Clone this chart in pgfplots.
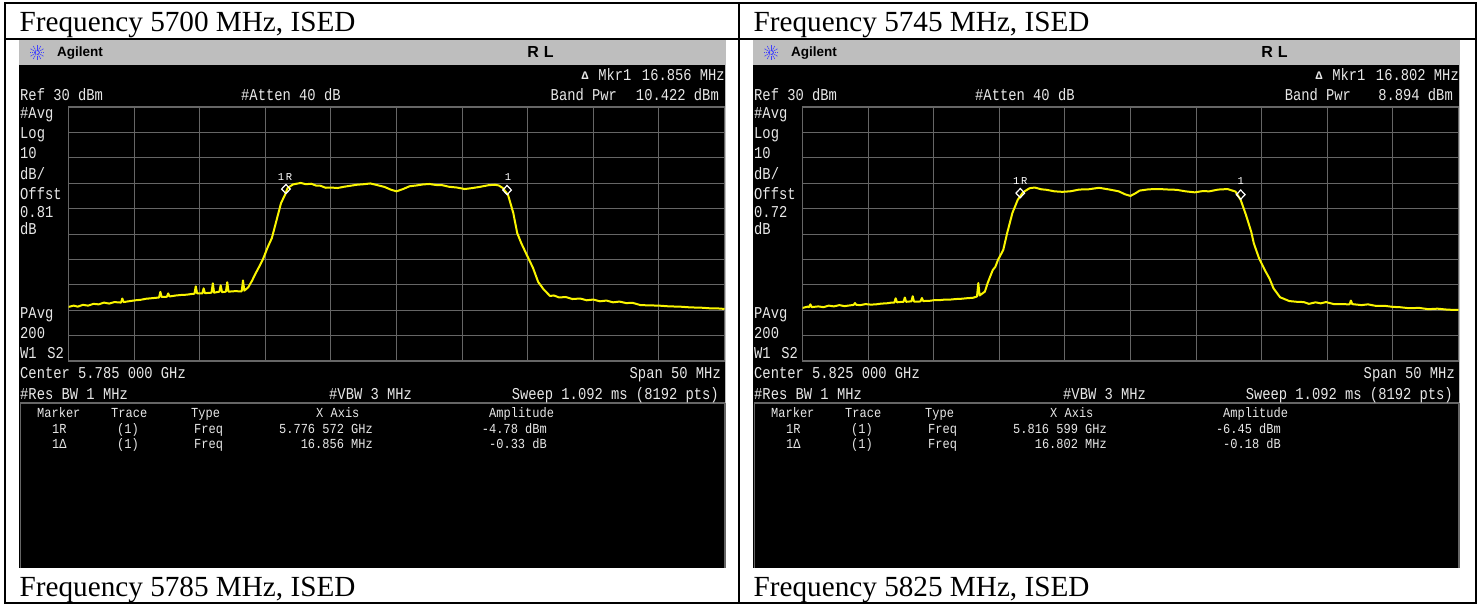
\documentclass[border=0pt]{standalone}
\usepackage{fontspec}
\usepackage{pgfplots}
\usepackage{pgfplotstable}
\pgfplotsset{compat=1.18}
\setmainfont{Liberation Serif}
\newfontfamily\lcdfont{Liberation Mono}
\newfontfamily\hpfont{Liberation Sans}

\definecolor{bar}{HTML}{BEBEBE}
\definecolor{gridc}{HTML}{666666}
\definecolor{lcd}{HTML}{E8E8E8}
\definecolor{trace}{HTML}{FAF500}

% traces: offset from centre (MHz), level (dBm), read off the screens
\pgfplotstableread{
f db
-25.0 -48.7
-24.6 -48.2
-24.3 -48.6
-23.9 -47.9
-23.5 -48.2
-23.1 -47.5
-22.7 -47.7
-22.3 -47.0
-21.9 -47.4
-21.5 -46.8
-21.0 -47.0
-20.9 -45.4
-20.8 -46.8
-20.3 -46.4
-19.9 -46.1
-19.5 -45.9
-19.1 -45.5
-18.7 -45.3
-18.1 -45.0
-18.0 -42.8
-17.9 -44.8
-17.5 -44.7
-17.4 -43.4
-17.3 -44.6
-16.8 -44.2
-16.4 -44.0
-16.0 -43.9
-15.6 -43.6
-15.4 -43.5
-15.3 -40.6
-15.2 -43.4
-14.8 -43.4
-14.7 -41.4
-14.6 -43.3
-14.1 -43.1
-14.0 -39.4
-13.9 -43.1
-13.5 -42.7
-13.4 -40.2
-13.3 -42.9
-13.0 -42.7
-12.9 -39.0
-12.8 -42.7
-12.3 -42.5
-11.8 -42.6
-11.7 -38.3
-11.6 -42.3
-11.3 -41.0
-11.0 -38.3
-10.8 -36.1
-10.5 -33.2
-10.2 -30.2
-9.8 -25.0
-9.5 -21.6
-9.2 -15.7
-8.8 -7.8
-8.5 -4.6
-8.3 -1.9
-7.9 -0.5
-7.5 -0.1
-7.3 0.1
-6.9 -0.4
-6.5 -0.2
-6.1 -1.0
-5.8 -1.0
-5.4 -1.8
-5.0 -1.7
-4.5 -1.9
-4.0 -1.4
-3.5 -1.0
-3.0 -0.6
-2.5 -0.4
-2.0 -0.1
-1.5 -0.7
-0.9 -1.5
-0.4 -2.6
0.0 -3.2
0.5 -2.3
1.0 -1.2
1.5 -0.9
2.0 -0.5
2.5 -0.3
3.0 -0.7
3.5 -0.8
4.0 -1.4
4.6 -1.7
5.2 -2.3
5.8 -1.9
6.4 -1.4
7.0 -0.8
7.5 -0.6
7.8 -0.9
8.1 -1.9
8.5 -4.6
8.9 -11.7
9.2 -19.6
9.5 -23.5
10.0 -29.0
10.4 -33.3
10.8 -38.9
11.2 -41.7
11.7 -44.4
12.0 -44.2
12.4 -45.0
12.9 -44.8
13.4 -45.6
14.0 -45.4
14.5 -46.1
15.0 -45.8
15.5 -46.5
16.0 -46.2
16.5 -46.9
17.0 -46.6
17.5 -47.2
18.0 -47.1
18.6 -48.0
19.3 -48.1
20.0 -48.2
20.8 -48.5
21.6 -48.6
22.4 -48.9
23.2 -49.0
24.0 -49.3
24.5 -49.3
25.0 -49.5
}\traceA

\pgfplotstableread{
f db
-25.0 -49.1
-24.6 -48.6
-24.5 -48.8
-24.4 -47.7
-24.3 -48.8
-23.8 -48.5
-23.4 -48.8
-23.0 -48.2
-22.6 -48.5
-22.2 -48.0
-21.8 -48.4
-21.1 -47.9
-21.0 -47.2
-20.9 -47.9
-20.6 -48.0
-20.2 -47.6
-19.8 -47.8
-19.4 -47.7
-19.0 -47.4
-18.6 -47.3
-18.2 -47.0
-18.0 -47.0
-17.9 -45.3
-17.8 -46.9
-17.4 -46.7
-17.3 -46.7
-17.2 -45.0
-17.1 -46.7
-16.7 -46.5
-16.6 -44.5
-16.5 -46.6
-16.1 -46.6
-16.0 -46.5
-15.9 -45.2
-15.8 -46.4
-15.3 -46.3
-14.9 -46.0
-14.5 -46.0
-14.1 -45.8
-13.7 -45.8
-13.3 -45.6
-12.9 -45.5
-12.5 -45.3
-12.0 -45.1
-11.7 -44.6
-11.6 -39.3
-11.5 -44.2
-11.1 -42.7
-10.9 -39.5
-10.7 -36.8
-10.5 -34.2
-10.3 -32.9
-10.1 -30.2
-9.7 -26.3
-9.4 -19.6
-9.0 -11.7
-8.6 -6.6
-8.2 -3.6
-7.7 -2.0
-7.3 -1.7
-6.8 -2.4
-6.4 -2.6
-5.8 -3.2
-5.2 -3.4
-4.6 -3.2
-3.9 -2.5
-3.2 -2.4
-2.4 -1.8
-1.6 -2.5
-0.9 -3.2
-0.4 -4.4
0.0 -5.0
0.4 -3.9
0.7 -2.9
1.4 -2.4
2.2 -2.3
2.9 -2.5
3.5 -2.6
4.2 -3.2
4.9 -3.6
5.5 -3.1
6.0 -3.2
6.7 -2.5
7.4 -2.3
8.0 -3.3
8.4 -6.6
8.8 -12.5
9.2 -19.1
9.4 -23.7
9.8 -29.6
10.3 -34.8
10.6 -37.6
10.9 -41.4
11.4 -44.9
12.1 -46.4
12.7 -46.7
13.2 -46.8
13.6 -47.5
14.1 -46.9
14.5 -47.3
14.9 -46.8
15.5 -47.6
16.1 -47.6
16.7 -47.7
16.8 -46.2
16.9 -47.6
17.6 -48.0
18.1 -47.7
18.7 -48.3
19.4 -48.3
20.0 -48.7
20.5 -48.8
21.2 -49.2
22.0 -49.1
22.7 -49.6
23.4 -49.4
24.2 -49.8
25.0 -49.9
}\traceB

% one text line on the screen, x and baseline in picture pixels
\newcommand{\lcdl}[3]{\node[anchor=base west,inner sep=0pt,yshift=-1pt,yscale=1.2,text=lcd,font=\lcdfont\fontsize{13.8}{14}\selectfont] at (#1,#2) {#3};}
\newcommand{\lcdr}[3]{\node[anchor=base east,inner sep=0pt,yshift=-1pt,yscale=1.2,text=lcd,font=\lcdfont\fontsize{13.8}{14}\selectfont] at (#1,#2) {#3};}
\newcommand{\tabl}[3]{\node[anchor=base west,inner sep=0pt,yshift=-0.5pt,yscale=1.15,text=lcd,font=\lcdfont\fontsize{12}{13}\selectfont] at (#1,#2) {#3};}
\newcommand{\tabr}[3]{\node[anchor=base east,inner sep=0pt,yshift=-0.5pt,yscale=1.15,text=lcd,font=\lcdfont\fontsize{12}{13}\selectfont] at (#1,#2) {#3};}

% #1 shift #2 Mkr1 #3 Band Pwr #4 offset #5 centre #6 X row1 #7 X row2 #8 ampl row1 #9 ampl row2
\newcommand{\screen}[9]{%
\begin{scope}[x=1pt,y=-1pt,xshift=#1pt]
  \fill[black] (19,40) rectangle (726,568);
  \fill[bar] (19,40) rectangle (726,65);
  \draw[gridc,line width=1.2pt] (20,403) -- (725,403);
  \draw[gridc,line width=1.2pt] (20.5,403) -- (20.5,568);
  \draw[gridc,line width=1.5pt] (725,403) -- (725,568);
  \fill[bar] (724.5,65) rectangle (726,403);
  % Agilent logo
  \foreach \a in {0,30,...,330}
    \draw[blue!75,line width=0.7pt,dash pattern=on 1.5pt off 0.7pt] (37,52.5) ++(\a:1.5) -- ++(\a:6.5);
  \node[anchor=base west,inner sep=0pt,font=\hpfont\bfseries\fontsize{13.5}{14}\selectfont] at (57,57) {Agilent};
  \node[anchor=base,inner sep=0pt,font=\hpfont\bfseries\fontsize{16}{17}\selectfont] at (540.5,57.5) {R\hspace{5pt}L};
  \node[anchor=base,inner sep=0pt,text=lcd,font=\lcdfont\bfseries\fontsize{11.5}{11}\selectfont] at (585,80) {Δ};
  \lcdr{725}{80}{Mkr1\, #2 MHz}
  \lcdl{20}{100}{Ref 30 dBm}
  \lcdl{241}{100}{\#Atten 40 dB}
  \lcdr{719}{100}{Band Pwr\hspace{19pt}#3 dBm}
  \lcdl{20}{118}{\#Avg}
  \lcdl{20}{138}{Log}
  \lcdl{20}{158}{10}
  \lcdl{20}{178}{dB/}
  \lcdl{20}{198}{Offst}
  \lcdl{20}{216}{#4}
  \lcdl{20}{233}{dB}
  \lcdl{20}{317}{PAvg}
  \lcdl{20}{337}{200}
  \lcdl{20}{357}{W1\, S2}
  \lcdl{20}{377}{Center #5 GHz}
  \lcdr{721}{377}{Span 50 MHz}
  \lcdl{20}{398}{\#Res BW 1 MHz}
  \lcdl{329}{398}{\#VBW 3 MHz}
  \lcdr{719}{398}{Sweep 1.092 ms (8192 pts)}
  \tabl{37}{417}{Marker}
  \tabl{111}{417}{Trace}
  \tabl{191}{417}{Type}
  \tabl{316}{417}{X Axis}
  \tabl{489}{417}{Amplitude}
  \tabl{52}{433}{1R}
  \tabl{117}{433}{(1)}
  \tabl{194}{433}{Freq}
  \tabr{373}{433}{#6 GHz}
  \tabr{547}{433}{#8 dBm}
  \tabl{52}{448}{1Δ}
  \tabl{117}{448}{(1)}
  \tabl{194}{448}{Freq}
  \tabr{373}{448}{#7 MHz}
  \tabr{547}{448}{#9 dB}
\end{scope}}

% spectrum axis over the graticule
\pgfplotsset{
  spectrum/.style={
    scale only axis,
    width=656pt,
    height=254pt,
    anchor=south west,
    xmin=-25, xmax=25,
    ymin=-70, ymax=30,
    xtick={-25,-20,...,25},
    ytick={-70,-60,...,30},
    ticks=major,
    major tick length=0pt,
    xticklabels={},
    yticklabels={},
    grid=major,
    grid style={gridc,line width=1pt},
    axis line style={gridc,line width=1.5pt},
  },
}
\tikzset{
  sweep/.style={trace, line width=2pt, line join=round},
  mkr/.style={white, mark=diamond, mark size=4.6pt, mark options={line width=1.2pt,xscale=1.25}},
  mkrtext/.style={white,font=\lcdfont\fontsize{10.5}{11}\selectfont,inner sep=0pt,anchor=base},
}

\begin{document}
\begin{tikzpicture}
\useasboundingbox (0,0) rectangle (1478pt,-607pt);
\fill[white] (0,0) rectangle (1478pt,-607pt);

\screen{0}{16.856}{10.422}{0.81}{5.785 000}{5.776 572}{16.856}{-4.78}{-0.33}
\screen{734}{16.802}{\phantom{0}8.894}{0.72}{5.825 000}{5.816 599}{16.802}{-6.45}{-0.18}

\begin{axis}[spectrum, at={(68.5pt,-361pt)}]
\addplot[sweep] table[x=f,y=db] {\traceA};
\addplot[only marks, mkr] coordinates {(-8.428,-2.3) (8.428,-2.7)};
\node[mkrtext] at (axis cs:-8.5,1.2) {1\,R};
\node[mkrtext] at (axis cs:8.5,1.2) {1};
\end{axis}

\begin{axis}[spectrum, at={(802.5pt,-361pt)}]
\addplot[sweep] table[x=f,y=db] {\traceB};
\addplot[only marks, mkr] coordinates {(-8.401,-3.9) (8.401,-4.5)};
\node[mkrtext] at (axis cs:-8.4,-0.5) {1\,R};
\node[mkrtext] at (axis cs:8.4,-0.5) {1};
\end{axis}

% table frame and captions
\begin{scope}[x=1pt,y=-1pt]
  \draw[black,line width=1.6pt] (4.8,2.8) rectangle (1475.8,603.2);
  \draw[black,line width=1.6pt] (4.8,38.8) -- (1475.8,38.8);
  \draw[black,line width=1.6pt] (738.8,2.8) -- (738.8,603.2);
  \node[anchor=base west,inner sep=0pt,font=\fontsize{29.2}{30}\selectfont] at (19.5,31.5) {Frequency 5700 MHz, ISED};
  \node[anchor=base west,inner sep=0pt,font=\fontsize{29.2}{30}\selectfont] at (753.5,31.5) {Frequency 5745 MHz, ISED};
  \node[anchor=base west,inner sep=0pt,font=\fontsize{29.2}{30}\selectfont] at (19.5,596.5) {Frequency 5785 MHz, ISED};
  \node[anchor=base west,inner sep=0pt,font=\fontsize{29.2}{30}\selectfont] at (753.5,596.5) {Frequency 5825 MHz, ISED};
\end{scope}
\end{tikzpicture}
\end{document}
